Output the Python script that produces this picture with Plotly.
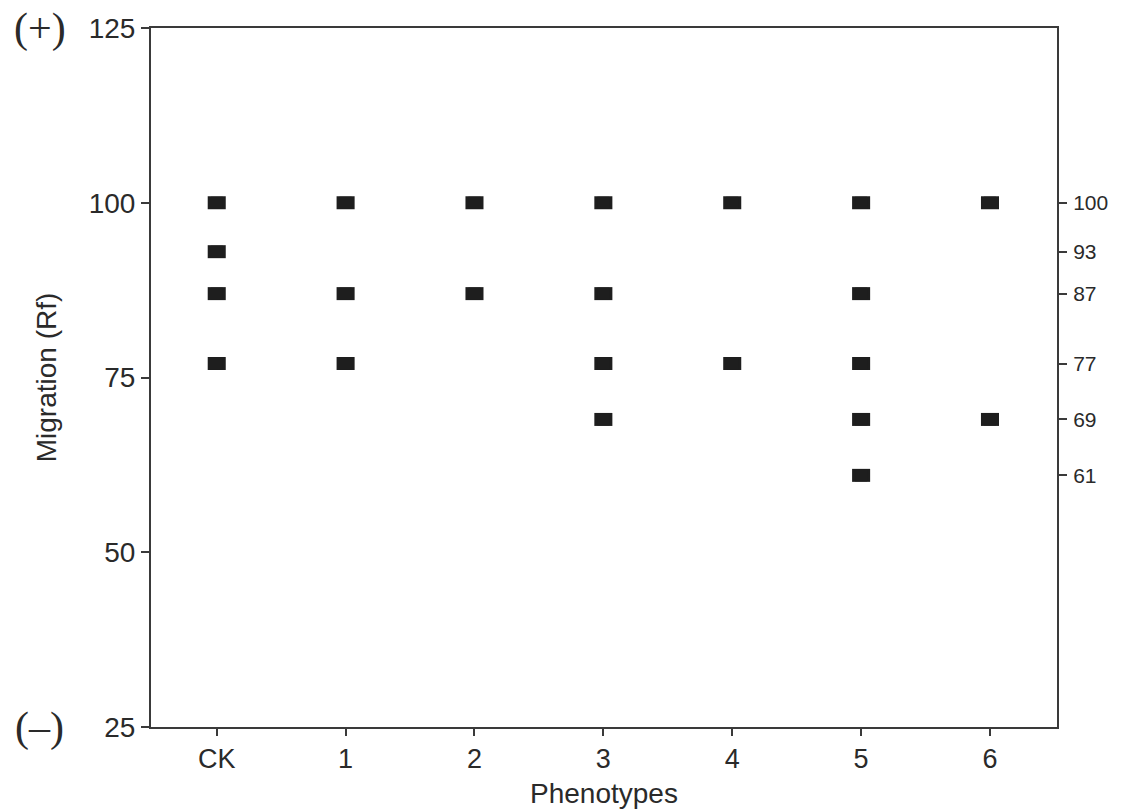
import plotly.graph_objects as go

categories = ["CK", "1", "2", "3", "4", "5", "6"]
bands = {
    "CK": [100, 93, 87, 77],
    "1": [100, 87, 77],
    "2": [100, 87],
    "3": [100, 87, 77, 69],
    "4": [100, 77],
    "5": [100, 87, 77, 69, 61],
    "6": [100, 69],
}
left_ticks = [25, 50, 75, 100, 125]
right_ticks = [100, 93, 87, 77, 69, 61]

xs, ys = [], []
for i, c in enumerate(categories):
    for v in bands[c]:
        xs.append(i)
        ys.append(v)

ink = "#1e1e1e"
axis_col = "#3a3a3a"
sans = "Liberation Sans, Arial, sans-serif"
serif = "Liberation Serif, Times New Roman, serif"

fig = go.Figure()
fig.add_trace(go.Scatter(
    x=xs, y=ys, mode="markers",
    marker=dict(symbol="square", size=12, color=ink, line=dict(width=0)),
    error_x=dict(type="constant", value=0.07, thickness=13, width=0, color=ink),
    showlegend=False, hoverinfo="skip",
))
# invisible trace for right axis
fig.add_trace(go.Scatter(x=[0], y=[100], yaxis="y2", mode="markers",
                         marker=dict(opacity=0), showlegend=False, hoverinfo="skip"))

fig.update_layout(
    width=1136, height=812,
    margin=dict(l=151, r=79, t=28, b=85),
    paper_bgcolor="white", plot_bgcolor="white",
    font=dict(family=sans, color="#2a2a2a"),
    xaxis=dict(
        range=[-0.51, 6.52], tickmode="array", automargin=False,
        tickvals=list(range(len(categories))), ticktext=categories,
        ticks="outside", ticklen=7, tickwidth=1.5, tickcolor=axis_col,
        showline=True, linecolor=axis_col, linewidth=2, mirror=True,
        showgrid=False, zeroline=False,
        tickfont=dict(size=27, family=sans),
        title=dict(text="Phenotypes", font=dict(size=28, family=sans), standoff=10),
    ),
    yaxis=dict(
        range=[25, 125], tickmode="array", tickvals=left_ticks, automargin=False,
        ticks="outside", ticklen=8, tickwidth=1.5, tickcolor=axis_col,
        showline=True, linecolor=axis_col, linewidth=2, mirror=True,
        showgrid=False, zeroline=False,
        tickfont=dict(size=28, family=sans),
        title=dict(text="Migration (Rf)", font=dict(size=28, family=sans), standoff=24),
    ),
    yaxis2=dict(
        range=[25, 125], overlaying="y", side="right", tickmode="array", automargin=False,
        tickvals=right_ticks, ticks="outside", ticklen=9, tickwidth=1.5,
        tickcolor=axis_col, showline=False, showgrid=False, zeroline=False,
        tickfont=dict(size=21, family=sans), ticklabelstandoff=2,
    ),
    annotations=[
        dict(text="(+)", x=-0.123, y=125, xref="paper", yref="y", xanchor="center",
             yanchor="middle", showarrow=False,
             font=dict(family=serif, size=42, color="#2a2a2a")),
        dict(text="(\u2013)", x=-0.123, y=25, xref="paper", yref="y", xanchor="center",
             yanchor="middle", showarrow=False,
             font=dict(family=serif, size=42, color="#2a2a2a")),
    ],
)

fig.write_html("out.html")
